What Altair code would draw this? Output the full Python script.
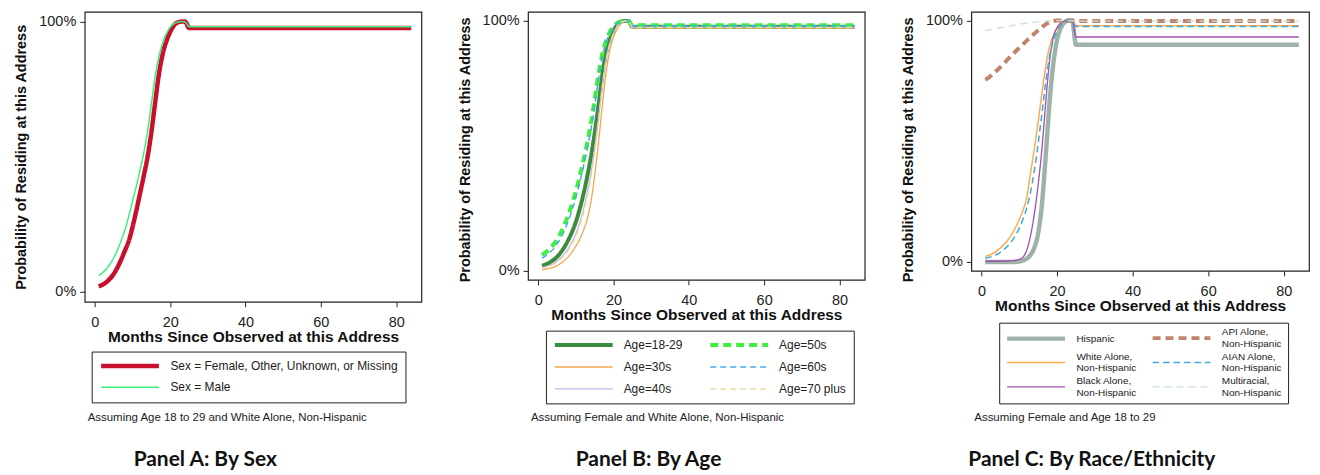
import altair as alt
import pandas as pd

# ---------------- data ----------------
months = list(range(1, 26)) + [84]

# Panel A: by sex
sex_names = ["Sex = Female, Other, Unknown, or Missing", "Sex = Male"]
sex_female = [2.0, 2.6, 3.5, 4.8, 6.6, 9.0, 12.0, 15.3, 18.8, 24.0, 30.0, 36.5, 43.0,
              50.0, 59.0, 70.0, 80.5, 88.0, 92.8, 96.2, 98.6, 99.7, 100, 100, 97.6, 97.6]
sex_male = [6.0, 7.0, 8.4, 10.2, 12.6, 15.5, 19.0, 23.0, 28.0, 33.5, 39.0, 45.0, 51.5,
            59.5, 69.5, 79.5, 87.0, 92.2, 95.6, 97.9, 99.2, 99.8, 100, 99.9, 98.1, 98.1]

# Panel B: by age
age_names = ["Age=18-29", "Age=30s", "Age=40s", "Age=50s", "Age=60s", "Age=70 plus"]
age_1829 = [2.0, 2.5, 3.2, 4.2, 5.5, 7.3, 9.5, 12.3, 15.5, 19.5, 24.5, 30.5, 37.5,
            45.5, 55.0, 66.0, 78.0, 87.0, 92.5, 96.0, 98.5, 99.6, 100, 100, 97.6, 97.6]
age_30s = [0.4, 0.6, 0.9, 1.3, 2.0, 2.9, 4.1, 5.6, 7.5, 9.8, 12.5, 16.0, 20.5,
           27.5, 38.0, 51.0, 65.5, 79.0, 88.0, 93.5, 96.8, 98.9, 99.8, 100, 97.2, 97.2]
age_40s = [1.2, 1.6, 2.1, 2.8, 3.8, 5.1, 6.8, 8.9, 11.5, 14.8, 19.0, 24.5, 31.0,
           39.0, 49.0, 61.0, 74.0, 84.5, 91.0, 95.0, 97.8, 99.3, 100, 100, 97.4, 97.4]
age_50s = [6.3, 7.3, 8.6, 10.3, 12.5, 15.2, 18.5, 22.3, 26.8, 31.8, 37.5, 44.0, 51.0,
           59.0, 68.5, 78.5, 86.5, 92.0, 95.5, 97.8, 99.2, 99.8, 100, 100, 98.2, 98.2]
age_60s = [5.0, 5.9, 7.1, 8.6, 10.6, 13.1, 16.2, 19.9, 24.3, 29.3, 35.0, 41.5, 48.5,
           56.5, 66.0, 76.5, 85.5, 91.3, 95.0, 97.5, 99.0, 99.8, 100, 100, 98.0, 98.0]
age_70p = [1.0, 1.3, 1.8, 2.5, 3.4, 4.6, 6.2, 8.2, 10.7, 13.8, 17.8, 23.0, 29.5,
           37.5, 47.5, 59.5, 72.5, 83.5, 90.5, 94.8, 97.6, 99.2, 100, 100, 97.3, 97.3]

# Panel C: by race/ethnicity
race_names = ["Hispanic", "White Alone, Non-Hispanic", "Black Alone, Non-Hispanic",
              "API Alone, Non-Hispanic", "AIAN Alone, Non-Hispanic", "Multiracial, Non-Hispanic"]
race_hisp = [0.0, 0.0, 0.0, 0.0, 0.0, 0.0, 0.0, 0.0, 0.05, 0.2, 0.6, 1.4, 3.0,
             6.0, 12.0, 24.0, 44.0, 66.0, 82.0, 92.0, 97.0, 99.3, 100, 100, 90.0, 90.0]
race_white = [2.3, 2.8, 3.5, 4.5, 5.8, 7.3, 9.2, 11.5, 14.3, 17.6, 21.5, 27.0, 37.0,
              47.0, 58.0, 70.0, 81.0, 89.0, 93.8, 96.8, 98.8, 99.7, 100, 100, 97.9, 97.9]
race_black = [0.3, 0.3, 0.3, 0.3, 0.3, 0.4, 0.4, 0.5, 0.7, 1.1, 2.0, 5.0, 11.0,
              20.0, 32.0, 47.0, 66.0, 83.0, 93.0, 97.0, 99.0, 99.8, 100, 100, 93.2, 93.2]
race_api = [75.5, 76.5, 77.8, 79.2, 80.7, 82.3, 84.0, 85.6, 87.2, 88.7, 90.2, 91.7, 93.2,
            94.6, 96.0, 97.3, 98.4, 99.3, 99.8, 100, 100, 100, 100, 100, 99.8, 99.8]
race_aian = [1.5, 1.9, 2.4, 3.1, 4.0, 5.2, 6.7, 8.6, 11.0, 14.0, 17.8, 22.5, 29.0,
             38.0, 49.0, 61.5, 74.5, 85.0, 91.5, 95.5, 98.0, 99.4, 100, 100, 97.5, 97.5]
race_multi = [95.8, 96.1, 96.4, 96.7, 97.0, 97.3, 97.6, 97.9, 98.2, 98.5, 98.7, 98.9, 99.1,
              99.3, 99.5, 99.65, 99.8, 99.9, 100, 100, 100, 100, 100, 100, 99.8, 99.8]

x_ticks = [0, 20, 40, 60, 80]
y_ticks = [0, 100]

# ---------------- styles ----------------
style_A = {
    sex_names[0]: ("#C8102E", 4.5, [1, 0]),
    sex_names[1]: ("#3CF07C", 1.5, [1, 0]),
}
style_B = {
    age_names[0]: ("#3C8A3C", 4.0, [1, 0]),
    age_names[1]: ("#F5A54F", 1.3, [1, 0]),
    age_names[2]: ("#BDB6E6", 1.3, [1, 0]),
    age_names[3]: ("#3CF03C", 4.0, [8, 5]),
    age_names[4]: ("#4AA8F0", 1.5, [6, 4]),
    age_names[5]: ("#EAD9A6", 1.5, [6, 4]),
}
style_C = {
    race_names[0]: ("#9DB3A8", 4.5, [1, 0]),
    race_names[1]: ("#FFAA4C", 1.5, [1, 0]),
    race_names[2]: ("#A34DB0", 1.3, [1, 0]),
    race_names[3]: ("#C08468", 4.0, [8, 5]),
    race_names[4]: ("#3AAAD8", 1.5, [6.5, 4]),
    race_names[5]: ("#C6DDD8", 1.3, [7, 5]),
}

FONT = "Liberation Sans"


def long_df(names, series):
    rows = []
    for name, vals in zip(names, series):
        for m, v in zip(months, vals):
            rows.append({"month": m, "pct": v, "series": name})
    return pd.DataFrame(rows)


def panel(names, series, style, width, height, leg, note, title, title_y=None):
    df = long_df(names, series)
    colors = [style[n][0] for n in names]
    widths = [style[n][1] for n in names]
    dashes = [style[n][2] for n in names]
    legend = alt.Legend(
        title=None, orient="none", legendX=leg["x"], legendY=leg["y"],
        columns=leg["columns"], symbolType="stroke", symbolSize=3364,
        labelFont=FONT, labelFontSize=leg["fs"], labelColor="#222",
        labelOffset=9, labelLimit=400, rowPadding=leg["rp"],
        columnPadding=leg["cp"], padding=leg["pad"], clipHeight=leg["ch"],
        strokeColor="#222",
        labelBaseline=alt.ExprRef(
            expr="indexof(datum.label, ', Non-Hispanic') >= 0 ? 'line-bottom' : 'middle'"),
        labelExpr="split(replace(datum.label, ', Non-', ',|Non-'), '|')",
    )
    yaxis = dict(values=y_ticks, labelExpr="datum.value + '%'",
                 title="Probability of Residing at this Address")
    if title_y is not None:
        yaxis["titleY"] = title_y
    lines = alt.Chart(df).mark_line(interpolate="monotone", strokeCap="butt").encode(
        x=alt.X("month:Q", scale=alt.Scale(domain=[-2.7, 86.7], nice=False, zero=False),
                axis=alt.Axis(values=x_ticks, title="Months Since Observed at this Address")),
        y=alt.Y("pct:Q", scale=alt.Scale(domain=[-3.7, 103.6], nice=False, zero=False),
                axis=alt.Axis(**yaxis)),
        color=alt.Color("series:N", scale=alt.Scale(domain=names, range=colors), legend=legend),
        strokeDash=alt.StrokeDash("series:N", scale=alt.Scale(domain=names, range=dashes), legend=legend),
        strokeWidth=alt.StrokeWidth("series:N", scale=alt.Scale(type="ordinal", domain=names, range=widths),
                                    legend=legend),
    )
    note_layer = alt.Chart(pd.DataFrame({"t": [note]})).mark_text(
        align="left", baseline="middle", font=FONT, fontSize=11.5, color="#222"
    ).encode(x=alt.value(3), y=alt.value(408), text="t:N")
    title_layer = alt.Chart(pd.DataFrame({"t": [title]})).mark_text(
        align="center", baseline="middle", font="Lato", fontSize=21, fontWeight="bold", color="#111"
    ).encode(x=alt.value(121), y=alt.value(449.5), text="t:N")
    return alt.layer(lines, note_layer, title_layer).properties(width=width, height=height)


pA = panel(sex_names, [sex_female, sex_male], style_A, 338, 291,
           dict(x=7, y=341, columns=1, fs=12, rp=6.3, cp=20, pad=7, ch=15),
           "Assuming Age 18 to 29 and White Alone, Non-Hispanic", "Panel A: By Sex")

pB = panel(age_names, [age_1829, age_30s, age_40s, age_50s, age_60s, age_70p], style_B,
           338, 269, dict(x=18, y=320, columns=2, fs=12, rp=7, cp=25, pad=7, ch=15),
           "Assuming Female and White Alone, Non-Hispanic", "Panel B: By Age", title_y=138)

pC = panel(race_names, [race_hisp, race_white, race_black, race_api, race_aian, race_multi], style_C,
           339, 260, dict(x=28, y=312, columns=2, fs=10, rp=2.5, cp=13, pad=5.5, ch=20),
           "Assuming Female and Age 18 to 29", "Panel C: By Race/Ethnicity", title_y=138)

chart = alt.hconcat(pA, pB, pC, spacing=107, bounds="flush").resolve_scale(
    color="independent", strokeDash="independent", strokeWidth="independent"
).resolve_legend(
    color="independent", strokeDash="independent", strokeWidth="independent"
).properties(
    padding={"left": 5, "top": 2, "right": 2, "bottom": 2}
).configure_view(
    stroke="#222", strokeWidth=1.2
).configure_axis(
    grid=False, domain=False, tickColor="#222", tickSize=5, labelColor="#222",
    titleColor="#111", labelFont=FONT, titleFont=FONT, labelFontSize=14.5,
    titleFontWeight="bold"
).configure_axisX(
    labelPadding=9, titlePadding=0, titleFontSize=15.5
).configure_axisY(
    labelPadding=4, titlePadding=10, titleFontSize=14.5
)

chart.save("out.html", embed_options={"renderer": "svg", "actions": False})
